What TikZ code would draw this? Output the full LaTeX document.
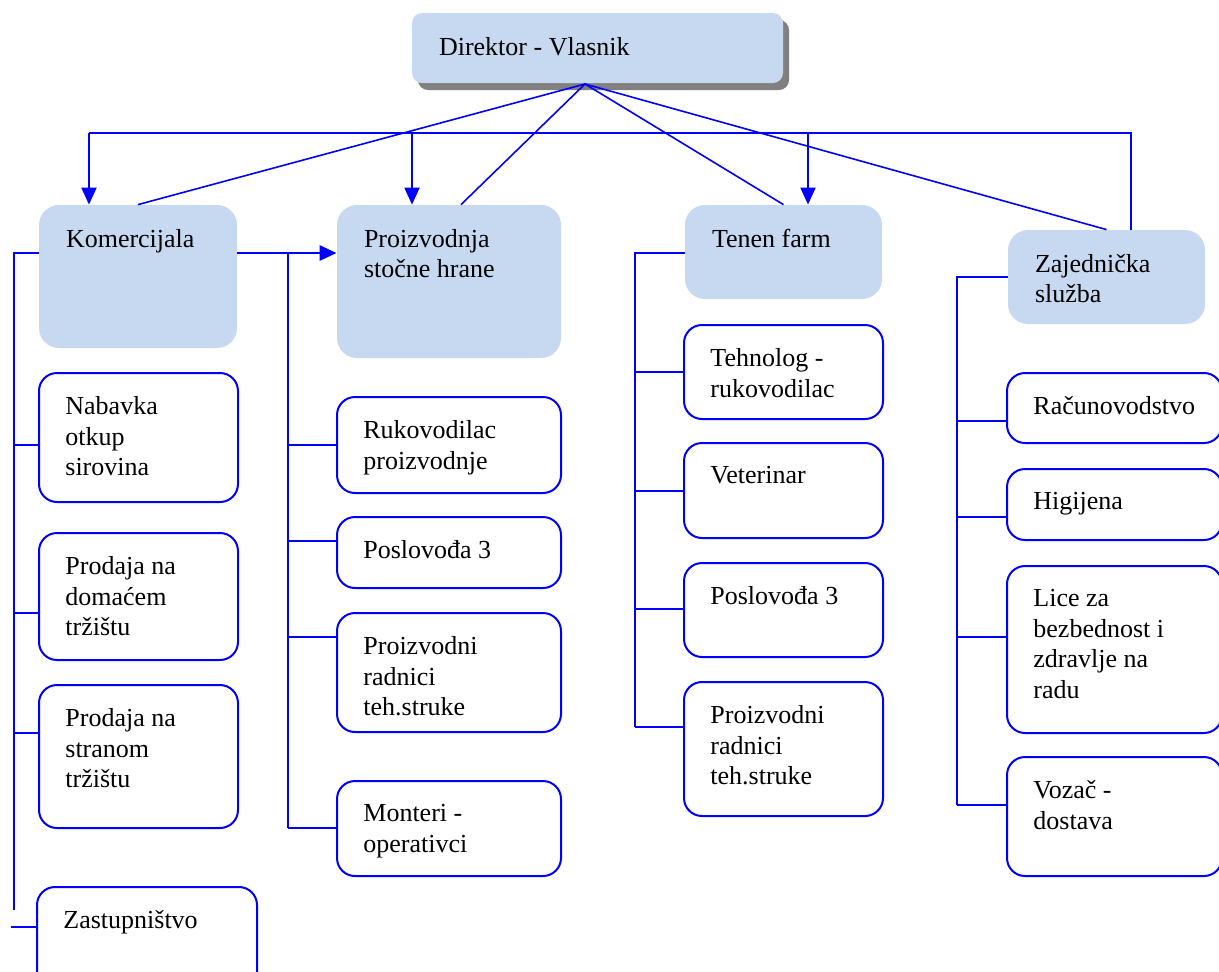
\documentclass[tikz,border=0pt]{standalone}
\usepackage{fontspec}
\setmainfont{Liberation Serif}
\usetikzlibrary{arrows.meta,shadows}
\definecolor{orgblue}{HTML}{0000FF}
\definecolor{orgfill}{HTML}{C6D9F1}
\definecolor{shadowgray}{HTML}{808080}
\tikzset{
  boss/.style={fill=orgfill,rounded corners=5pt,
    drop shadow={shadow xshift=3pt,shadow yshift=-3.5pt,fill=shadowgray,opacity=1}},
  dept/.style={fill=orgfill,rounded corners=10pt},
  sub/.style={draw=orgblue,line width=1pt,fill=white,rounded corners=9pt},
  txt/.style={anchor=north west,inner sep=0pt,align=left,
    font=\fontsize{13}{15.3}\selectfont},
  link/.style={draw=orgblue,line width=1pt},
  spoke/.style={draw=orgblue,line width=0.8pt},
  arr/.style={link,-{Triangle[length=8.5pt,width=7.5pt]}},
}
% box given by its corners (left, top, right, bottom), text set top left
\newcommand{\orgunit}[7]{%
  \node[#1,minimum width={(#5-#3)*0.5pt},minimum height={(#6-#4)*0.5pt}]
    (#2) at ({(#3+#5)/2},{(#4+#6)/2}) {};
  \node[txt] (#2-txt) at ([shift={(27,24)}]#2.north west) {#7};
}

\begin{document}
\begin{tikzpicture}[x=0.5pt,y=-0.5pt]
  \clip (0,0) rectangle (1219,971);
  % ---- top level ----
  \orgunit{boss}{dir}{412}{13}{783}{83}{Direktor - Vlasnik}
  \orgunit{dept}{kom}{39}{205}{237}{348}{Komercijala}
  \orgunit{dept}{pro}{337}{205}{561}{358}{Proizvodnja\\stočne hrane}
  \orgunit{dept}{ten}{685}{205}{882}{299}{Tenen farm}
  \orgunit{dept}{zaj}{1008}{230}{1205}{324}{Zajednička\\služba}
  % ---- komercijala ----
  \orgunit{sub}{nab}{39}{373}{238}{502}{Nabavka\\otkup\\sirovina}
  \orgunit{sub}{dom}{39}{533}{238}{660}{Prodaja na\\domaćem\\tržištu}
  \orgunit{sub}{str}{39}{685}{238}{828}{Prodaja na\\stranom\\tržištu}
  \orgunit{sub}{zas}{37}{887}{257}{990}{Zastupništvo}
  % ---- proizvodnja ----
  \orgunit{sub}{ruk}{337}{397}{561}{493}{Rukovodilac\\proizvodnje}
  \orgunit{sub}{pos}{337}{517}{561}{588}{Poslovođa 3}
  \orgunit{sub}{prr}{337}{613}{561}{732}{Proizvodni\\radnici\\teh.struke}
  \orgunit{sub}{mon}{337}{781}{561}{876}{Monteri -\\operativci}
  % ---- tenen farm ----
  \orgunit{sub}{teh}{684}{325}{883}{419}{Tehnolog -\\rukovodilac}
  \orgunit{sub}{vet}{684}{443}{883}{538}{Veterinar}
  \orgunit{sub}{pos2}{684}{563}{883}{657}{Poslovođa 3}
  \orgunit{sub}{prr2}{684}{682}{883}{816}{Proizvodni\\radnici\\teh.struke}
  % ---- zajednicka sluzba ----
  \orgunit{sub}{rac}{1007}{373}{1222}{443}{Računovodstvo}
  \orgunit{sub}{hig}{1007}{469}{1222}{540}{Higijena}
  \orgunit{sub}{lic}{1007}{566}{1222}{733}{Lice za\\bezbednost i\\zdravlje na\\radu}
  \orgunit{sub}{voz}{1007}{757}{1222}{876}{Vozač -\\dostava}

  % ---- director to departments ----
  \coordinate (hub) at (585,84);
  \draw[spoke] (kom.north) -- (hub) -- (ten.north);
  \draw[spoke] ([xshift=6pt]pro.north) -- (hub) -- (zaj.north);
  \coordinate (busK) at (89,133);
  \coordinate (busP) at (412,133);
  \coordinate (busT) at (808,133);
  \coordinate (busZ) at (1131,133);
  \draw[link] (busK) -- (busZ) -- (busZ |- zaj.north);
  \foreach \c/\n in {busK/kom,busP/pro,busT/ten}
    \draw[arr] (\c) -- (\c |- \n.north);

  % ---- komercijala -> proizvodnja ----
  \coordinate (kp) at (288,253);
  \draw[arr,line width=1.4pt] (kom.east |- kp) -- (pro.west |- kp);

  % ---- branches ----
  \coordinate (kbus) at (14,253);
  \draw[link] (kom.west |- kbus) -- (kbus) -- (14,910);
  \foreach \n/\y in {nab/445,dom/613,str/733}
    \draw[link] (kbus |- 0,\y) -- (\n.west |- 0,\y);
  \draw[link] (11,927) -- (zas.west |- 0,927);

  \draw[link] (kp) -- (288,828);
  \foreach \n/\y in {ruk/445,pos/541,prr/637,mon/828}
    \draw[link] (kp |- 0,\y) -- (\n.west |- 0,\y);

  \coordinate (tbus) at (635,253);
  \draw[link] (ten.west |- tbus) -- (tbus) -- (635,727);
  \foreach \n/\y in {teh/372,vet/491,pos2/609,prr2/727}
    \draw[link] (tbus |- 0,\y) -- (\n.west |- 0,\y);

  \coordinate (zbus) at (957,277);
  \draw[link] (zaj.west |- zbus) -- (zbus) -- (957,805);
  \foreach \n/\y in {rac/421,hig/517,lic/637,voz/805}
    \draw[link] (zbus |- 0,\y) -- (\n.west |- 0,\y);
\end{tikzpicture}
\end{document}
